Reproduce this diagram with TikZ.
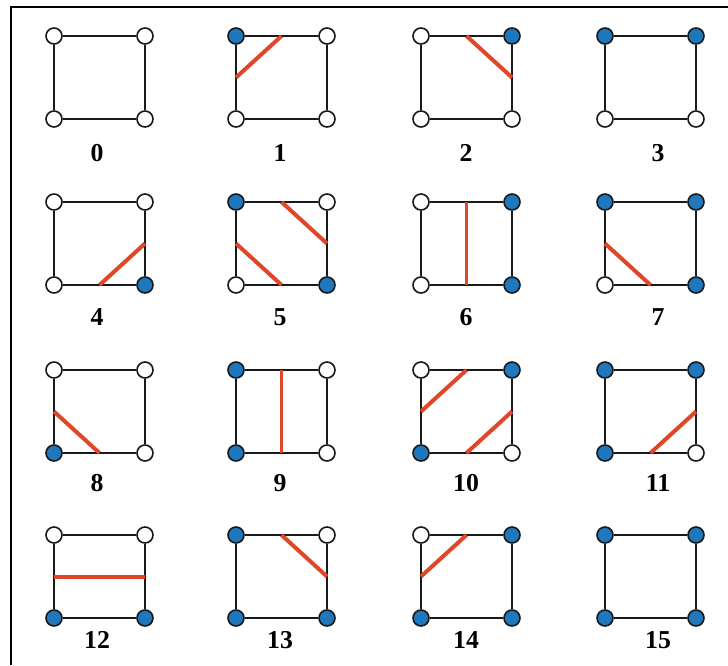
\documentclass[tikz,border=0pt]{standalone}
\usepackage{fontspec}
\setmainfont{Liberation Serif}
\usetikzlibrary{calc}
\definecolor{Inside}{HTML}{1E78BE}
\definecolor{Contour}{HTML}{E04628}
\definecolor{Edge}{HTML}{1A1A1A}
\tikzset{
    corner/.style={circle, draw=Edge, line width=1.4pt, minimum size=0.48cm, inner sep=0pt},
    vtx0/.style={corner, fill=white},
    vtx1/.style={corner, fill=Inside},
    edge/.style={draw=Edge, line width=1.6pt},
    cut/.style={draw=Contour, line width=3.4pt},
    num/.style={font=\bfseries\fontsize{22}{24}\selectfont, inner sep=0pt},
    frame/.style={draw=black, line width=2.5pt},
}
\begin{document}
\begin{tikzpicture}[x=0.03cm, y=-0.03cm]
    \useasboundingbox (0,0) rectangle (728,665);
    % Rahmen (nur links und oben sichtbar)
    \draw[frame] (11,665) -- (11,7) -- (728,7);

    % 16 Zellen: Ecken TL=1, TR=2, BR=4, BL=8
    \foreach \row/\ty/\ly in {0/36/153, 1/202/317, 2/370/483, 3/535/640}{
        \foreach \col/\lx/\nx in {0/54/97, 1/236/280, 2/421/466, 3/605/658}{
            \pgfmathtruncatemacro{\n}{4*\row+\col}
            \pgfmathtruncatemacro{\btl}{mod(\n,2)}
            \pgfmathtruncatemacro{\btr}{mod(floor(\n/2),2)}
            \pgfmathtruncatemacro{\bbr}{mod(floor(\n/4),2)}
            \pgfmathtruncatemacro{\bbl}{mod(floor(\n/8),2)}
            \node[vtx\btl] (c\n tl) at (\lx,\ty) {};
            \node[vtx\btr] (c\n tr) at (\lx+91,\ty) {};
            \node[vtx\bbr] (c\n br) at (\lx+91,\ty+83) {};
            \node[vtx\bbl] (c\n bl) at (\lx,\ty+83) {};
            \draw[edge] (c\n tl) -- (c\n tr) -- (c\n br) -- (c\n bl) -- (c\n tl);
            % Kantenmitten
            \coordinate (c\n t) at ($(c\n tl)!0.5!(c\n tr)$);
            \coordinate (c\n r) at ($(c\n tr)!0.5!(c\n br)$);
            \coordinate (c\n b) at ($(c\n bl)!0.5!(c\n br)$);
            \coordinate (c\n l) at ($(c\n tl)!0.5!(c\n bl)$);
            \node[num] (n\n) at (\nx,\ly) {\n};
        }
    }

    % Konturlinien
    \draw[cut] (c1t) -- (c1l);
    \draw[cut] (c2t) -- (c2r);
    \draw[cut] (c4b) -- (c4r);
    \draw[cut] (c5t) -- (c5r);
    \draw[cut] (c5l) -- (c5b);
    \draw[cut] (c6t) -- (c6b);
    \draw[cut] (c7l) -- (c7b);
    \draw[cut] (c8l) -- (c8b);
    \draw[cut] (c9t) -- (c9b);
    \draw[cut] (c10t) -- (c10l);
    \draw[cut] (c10b) -- (c10r);
    \draw[cut] (c11b) -- (c11r);
    \draw[cut] (c12l) -- (c12r);
    \draw[cut] (c13t) -- (c13r);
    \draw[cut] (c14l) -- (c14t);
\end{tikzpicture}
\end{document}
